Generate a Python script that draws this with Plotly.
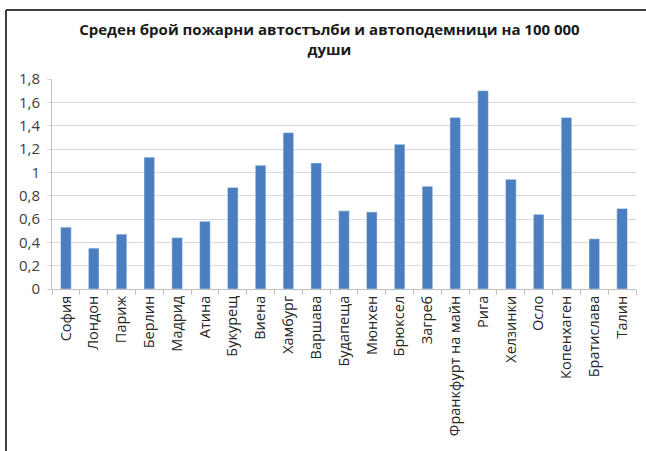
import plotly.graph_objects as go

cities = ["София", "Лондон", "Париж", "Берлин", "Мадрид", "Атина", "Букурещ", "Виена",
          "Хамбург", "Варшава", "Будапеща", "Мюнхен", "Брюксел", "Загреб",
          "Франкфурт на майн", "Рига", "Хелзинки", "Осло", "Копенхаген", "Братислава", "Талин"]
values = [0.53, 0.35, 0.47, 1.13, 0.44, 0.58, 0.87, 1.06, 1.34, 1.08, 0.67, 0.66, 1.24,
          0.88, 1.47, 1.70, 0.94, 0.64, 1.47, 0.43, 0.69]

y_tickvals = [0, 0.2, 0.4, 0.6, 0.8, 1.0, 1.2, 1.4, 1.6, 1.8]
y_ticktext = ["0", "0,2", "0,4", "0,6", "0,8", "1", "1,2", "1,4", "1,6", "1,8"]

title_text = "Среден брой пожарни автостълби и автоподемници на 100 000<br>души"

fig = go.Figure(go.Bar(x=cities, y=values, marker_color="#4A7EBF", width=0.38))

W, H = 646, 451
L, R, T, B = 52, 10, 79, 162
pw, ph = W - L - R, H - T - B

def px(x):
    return (x - L) / pw

def py(y):
    return (H - B - y) / ph

fig.update_layout(
    width=W, height=H,
    margin=dict(l=L, r=R, t=T, b=B),
    paper_bgcolor="white", plot_bgcolor="white",
    showlegend=False,
    font=dict(family="Open Sans, Liberation Sans, sans-serif", color="#404040"),
    title=dict(text=title_text, x=0.51, xanchor="center", y=0.922, yanchor="top",
               font=dict(size=15, color="#1a1a1a", family="Open Sans, sans-serif", weight="bold")),
    xaxis=dict(tickangle=-90, showgrid=False, showline=True, linecolor="#bfbfbf", linewidth=1,
               ticks="outside", tickson="boundaries", ticklen=5, tickcolor="#bfbfbf",
               tickfont=dict(size=14.5, color="#262626", family="Open Sans, sans-serif")),
    yaxis=dict(range=[0, 1.8], tickvals=y_tickvals, ticktext=y_ticktext,
               showgrid=True, gridcolor="#d9d9d9", gridwidth=1,
               showline=True, linecolor="#bfbfbf", linewidth=1,
               ticks="outside", ticklen=4, tickcolor="#d9d9d9", ticklabelstandoff=4,
               tickfont=dict(size=15, color="#404040"), zeroline=False),
    shapes=[
        dict(type="line", xref="paper", yref="paper", x0=px(6), x1=px(646), y0=py(10), y1=py(10),
             line=dict(color="#404040", width=2)),
        dict(type="line", xref="paper", yref="paper", x0=px(6), x1=px(6), y0=py(10), y1=py(451),
             line=dict(color="#404040", width=2)),
    ],
)

fig.write_html("out.html", config={"displayModeBar": False},
               post_script="document.body.style.margin='0';")
